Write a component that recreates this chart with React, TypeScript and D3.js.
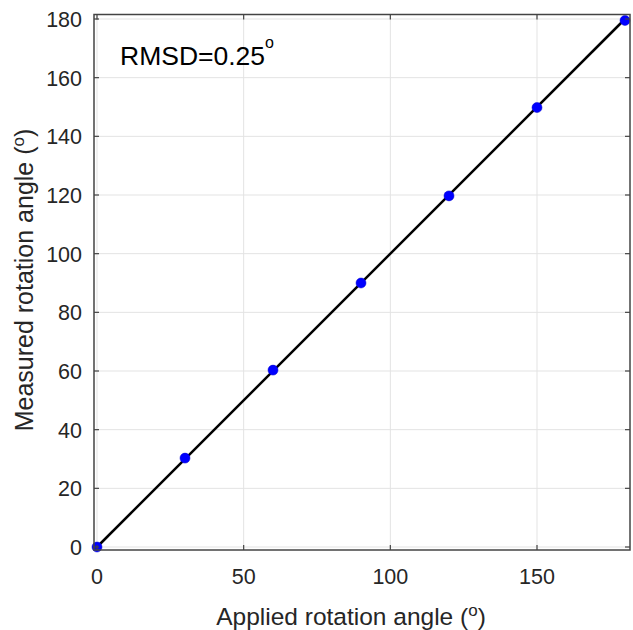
import React from "react";
import * as d3 from "d3";

const applied = [0, 30, 60, 90, 120, 150, 180];
const measured = [0, 30.3, 60.3, 90.0, 119.7, 149.8, 179.5];
const xTicks = [0, 50, 100, 150];
const yTicks = [0, 20, 40, 60, 80, 100, 120, 140, 160, 180];
const fitLine = [0, 180];

export default function App() {
  const W = 633, H = 630;
  const box = { l: 94, r: 630, t: 14.5, b: 550 };
  const x = d3.scaleLinear().domain([0, 180]).range([97, 625]);
  const y = d3.scaleLinear().domain([0, 180]).range([547, 19]);
  const font = "Arial, 'Liberation Sans', Helvetica, sans-serif";
  const axisCol = "#262626";
  const line = d3.line<number>().x((d) => x(d)).y((d) => y(d));
  return (
    <svg width={W} height={H} style={{ position: "absolute", left: 0, top: 0 }} fontFamily={font}>
      <rect x={0} y={0} width={W} height={H} fill="#fff" />
      {xTicks.map((t) => (
        <line key={"gx" + t} x1={x(t)} x2={x(t)} y1={box.t} y2={box.b} stroke="#e3e3e3" strokeWidth={1} />
      ))}
      {yTicks.map((t) => (
        <line key={"gy" + t} x1={box.l} x2={box.r} y1={y(t)} y2={y(t)} stroke="#e3e3e3" strokeWidth={1} />
      ))}
      <path d={line(fitLine) || ""} stroke="#000" strokeWidth={2.5} fill="none" />
      {applied.map((a, i) => (
        <circle key={"p" + i} cx={x(a)} cy={y(measured[i])} r={5} fill="#0000ff" stroke="#0000cc" strokeWidth={0.5} />
      ))}
      <rect x={box.l} y={box.t} width={box.r - box.l} height={box.b - box.t} fill="none" stroke="#444" strokeWidth={1.5} />
      {xTicks.map((t) => (
        <g key={"tx" + t}>
          <line x1={x(t)} x2={x(t)} y1={box.b} y2={box.b - 5} stroke="#444" strokeWidth={1.2} />
          <line x1={x(t)} x2={x(t)} y1={box.t} y2={box.t + 5} stroke="#444" strokeWidth={1.2} />
          <text x={x(t)} y={584} textAnchor="middle" fontSize={21.5} fill={axisCol}>{t}</text>
        </g>
      ))}
      {yTicks.map((t) => (
        <g key={"ty" + t}>
          <line x1={box.l} x2={box.l + 5} y1={y(t)} y2={y(t)} stroke="#444" strokeWidth={1.2} />
          <line x1={box.r} x2={box.r - 5} y1={y(t)} y2={y(t)} stroke="#444" strokeWidth={1.2} />
          <text x={82} y={y(t) + 8} textAnchor="end" fontSize={21.5} fill={axisCol}>{t}</text>
        </g>
      ))}
      <text x={351} y={625} textAnchor="middle" fontSize={24.5} fill={axisCol}>
        Applied rotation angle (<tspan dy={-9} fontSize={17}>o</tspan><tspan dy={9}>)</tspan>
      </text>
      <text transform={`translate(33,${280}) rotate(-90)`} textAnchor="middle" fontSize={25} fill={axisCol}>
        Measured rotation angle (<tspan dy={-9} fontSize={17}>o</tspan><tspan dy={9}>)</tspan>
      </text>
      <text x={120} y={65} fontSize={26.5} fill="#000">
        RMSD=0.25<tspan dy={-17} fontSize={16}>o</tspan>
      </text>
    </svg>
  );
}
